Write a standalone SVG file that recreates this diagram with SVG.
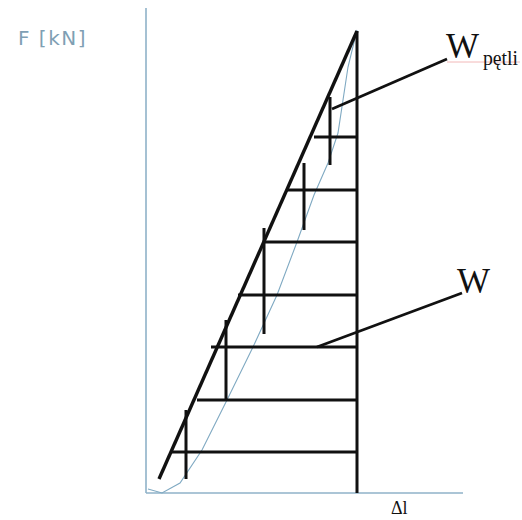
<svg xmlns="http://www.w3.org/2000/svg" width="522" height="520" viewBox="0 0 522 520">
<style>
.axis{stroke:#8fb2c8;stroke-width:1.6;fill:none}
.thin{stroke:#7fa9c2;stroke-width:1.1;fill:none}
.bold{stroke:#111;stroke-width:3.4;fill:none;stroke-linecap:butt}
.hl{stroke:#111;stroke-width:3;fill:none}
.lead{stroke:#111;stroke-width:2.8;fill:none}
.serif{font-family:"Liberation Serif","Times New Roman",serif;fill:#111}
.lab{font-family:"DejaVu Sans","Liberation Sans",sans-serif;fill:#7f9fb4}
</style>
<rect width="522" height="520" fill="#fff"/>
<g id="axes">
<line class="axis" x1="146" y1="8" x2="146" y2="493"/>
<line class="axis" x1="146" y1="493" x2="463" y2="493"/>
</g>
<g id="connectors">
<polyline class="thin" points="148,489 162,493 180,483 202,450 227,400 253,347 277,295 297,242 314,195 328,163 338,133 348,67 357,30"/>
<line class="bold" x1="159" y1="479" x2="357" y2="31"/>
<line class="hl" x1="357" y1="31" x2="357" y2="493"/>
<line class="hl" x1="171" y1="452" x2="357" y2="452"/>
<line class="hl" x1="197" y1="400" x2="357" y2="400"/>
<line class="hl" x1="211" y1="347" x2="357" y2="347"/>
<line class="hl" x1="238" y1="295" x2="357" y2="295"/>
<line class="hl" x1="264" y1="242" x2="357" y2="242"/>
<line class="hl" x1="287" y1="190" x2="357" y2="190"/>
<line class="hl" x1="314" y1="137" x2="357" y2="137"/>
<line class="hl" x1="186" y1="410" x2="186" y2="479"/>
<line class="hl" x1="226" y1="320" x2="226" y2="400"/>
<line class="hl" x1="264" y1="228" x2="264" y2="334"/>
<line class="hl" x1="304" y1="163" x2="304" y2="230"/>
<line class="hl" x1="330" y1="97" x2="330" y2="165"/>
<line class="lead" x1="332" y1="109" x2="447" y2="59"/>
<line class="lead" x1="317" y1="347" x2="462" y2="293"/>
<line x1="447" y1="62" x2="520" y2="62" stroke="#f2b8b8" stroke-width="1"/>
</g>
<g id="label-F">
<text class="lab" x="18" y="45" font-size="20" letter-spacing="1.5">F [kN]</text>
</g>
<g id="label-Wpetli">
<text class="serif" x="446" y="58" font-size="35">W</text>
<text class="serif" x="483" y="65" font-size="21" textLength="35" lengthAdjust="spacingAndGlyphs">pętli</text>
</g>
<g id="label-W">
<text class="serif" x="457" y="293" font-size="35">W</text>
</g>
<g id="label-dl">
<text class="serif" x="391" y="514" font-size="18" fill="#35505f">Δl</text>
</g>
</svg>
